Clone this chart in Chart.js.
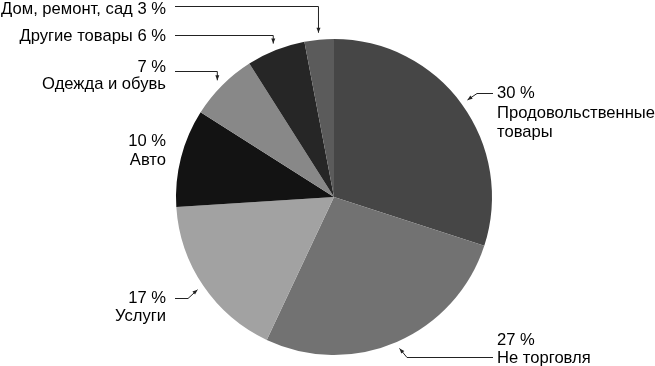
<!DOCTYPE html>
<html>
<head>
<meta charset="utf-8">
<script src="https://cdn.jsdelivr.net/npm/chart.js@4"></script>
<style>
  html, body { margin: 0; padding: 0; background: #fff; }
  #wrap { width: 655px; height: 366px; }
</style>
</head>
<body>
<div id="wrap"><canvas id="pie" width="655" height="366"></canvas></div>
<script>
// данные диаграммы
const categories = ['Продовольственные товары', 'Не торговля', 'Услуги', 'Авто',
                    'Одежда и обувь', 'Другие товары', 'Дом, ремонт, сад'];
const shares = [30, 27, 17, 10, 7, 6, 3];
const sliceColors = ['#464646', '#727272', '#a2a2a2', '#131313', '#888888', '#262626', '#5b5b5b'];

// подписи: строки текста для каждого сектора
const labelLines = [
  ['30 %', 'Продовольственные', 'товары'],
  ['27 %', 'Не торговля'],
  ['17 %', 'Услуги'],
  ['10 %', 'Авто'],
  ['7 %', 'Одежда и обувь'],
  ['Другие товары 6 %'],
  ['Дом, ремонт, сад 3 %']
];

// раскладка подписей (x, базовые линии, выравнивание, выноска)
const labelLayout = [
  { x: 497, align: 'left', base: [98, 118, 137], line: { y: 93, from: 493, elbow: 477 } },
  { x: 497, align: 'left', base: [345, 363], line: { y: 357, from: 493, elbow: 407 } },
  { x: 166, align: 'right', base: [303, 321], line: { y: 298, from: 175, elbow: 188 } },
  { x: 166, align: 'right', base: [146, 165], line: null },
  { x: 166, align: 'right', base: [72, 89], line: { y: 71, from: 175, elbow: 'drop' } },
  { x: 166, align: 'right', base: [41], line: { y: 35, from: 175, elbow: 'drop' } },
  { x: 166, align: 'right', base: [14], line: { y: 6, from: 175, elbow: 'drop' } }
];

const calloutPlugin = {
  id: 'callouts',
  afterDraw(chart) {
    const ctx = chart.ctx;
    const arcs = chart.getDatasetMeta(0).data;
    ctx.save();
    ctx.font = '16.6px "Liberation Sans", Arial, sans-serif';
    ctx.fillStyle = '#000';
    ctx.strokeStyle = '#222';
    ctx.lineWidth = 1;
    arcs.forEach((arc, i) => {
      const lay = labelLayout[i];
      ctx.textAlign = lay.align;
      ctx.textBaseline = 'alphabetic';
      labelLines[i].forEach((t, k) => ctx.fillText(t, lay.x, lay.base[k]));
      if (!lay.line) return;
      const p = arc.getProps(['x', 'y', 'startAngle', 'endAngle', 'outerRadius'], true);
      const mid = (p.startAngle + p.endAngle) / 2;
      const r = p.outerRadius + 7;
      const tx = p.x + Math.cos(mid) * r;
      const ty = p.y + Math.sin(mid) * r;
      const ex = lay.line.elbow === 'drop' ? tx : lay.line.elbow;
      const ey = lay.line.y;
      ctx.beginPath();
      ctx.moveTo(lay.line.from, ey + 0.5);
      ctx.lineTo(ex, ey + 0.5);
      ctx.lineTo(tx, ty);
      ctx.stroke();
      // наконечник стрелки
      const ang = Math.atan2(ty - ey, tx - ex);
      const len = 5, w = 2;
      ctx.beginPath();
      ctx.moveTo(tx, ty);
      ctx.lineTo(tx - len * Math.cos(ang) + w * Math.sin(ang), ty - len * Math.sin(ang) - w * Math.cos(ang));
      ctx.lineTo(tx - len * Math.cos(ang) - w * Math.sin(ang), ty - len * Math.sin(ang) + w * Math.cos(ang));
      ctx.closePath();
      ctx.fillStyle = '#222';
      ctx.fill();
      ctx.fillStyle = '#000';
    });
    ctx.restore();
  }
};

new Chart(document.getElementById('pie'), {
  type: 'pie',
  data: {
    labels: categories,
    datasets: [{
      data: shares,
      backgroundColor: sliceColors,
      borderWidth: 0
    }]
  },
  options: {
    responsive: false,
    animation: false,
    layout: { padding: { top: 39, bottom: 11, left: 176, right: 163 } },
    plugins: {
      legend: { display: false },
      tooltip: { enabled: false }
    }
  },
  plugins: [calloutPlugin]
});
</script>
</body>
</html>
